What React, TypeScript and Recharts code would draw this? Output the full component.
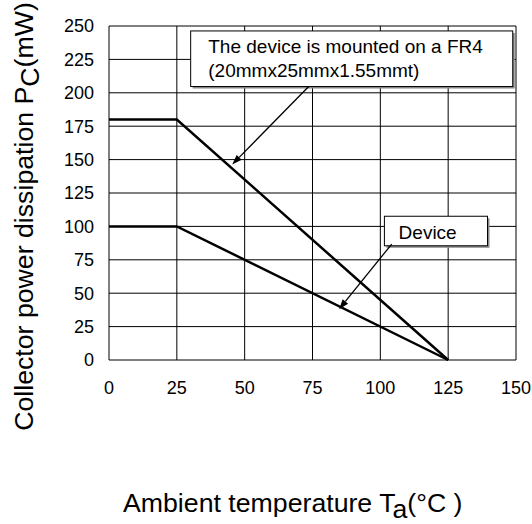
import React from "react";
import {
  LineChart,
  Line,
  XAxis,
  YAxis,
  CartesianGrid,
  ReferenceArea,
  ReferenceLine,
} from "recharts";

const temps = [0, 25, 125];
const fr4Power = [180, 180, 0];
const devicePower = [100, 100, 0];
const xTicks = [0, 25, 50, 75, 100, 125, 150];
const yTicks = [0, 25, 50, 75, 100, 125, 150, 175, 200, 225, 250];

const fr4Note = ["The device is mounted on a FR4", "(20mmx25mmx1.55mmt)"];
const deviceNote = "Device";

const data = temps.map((t, i) => ({ t, fr4: fr4Power[i], device: devicePower[i] }));

const FONT = "'Liberation Sans', Arial, Helvetica, sans-serif";

const Arrow = (props: any) => {
  const { x1, y1, x2, y2 } = props;
  const ang = Math.atan2(y2 - y1, x2 - x1);
  const len = 10;
  const w = 3.5;
  const bx = x2 - len * Math.cos(ang);
  const by = y2 - len * Math.sin(ang);
  const px = -Math.sin(ang) * w;
  const py = Math.cos(ang) * w;
  return (
    <g>
      <line x1={x1} y1={y1} x2={bx} y2={by} stroke="#000" strokeWidth={1.3} />
      <polygon
        points={`${x2},${y2} ${bx + px},${by + py} ${bx - px},${by - py}`}
        fill="#000"
      />
    </g>
  );
};

const BoxShape = (props: any) => {
  const { x, y, width, height } = props;
  return (
    <g>
      <rect x={x + 2} y={y + 2} width={width} height={height} fill="#8a8a8a" />
      <rect x={x} y={y} width={width} height={height} fill="#fff" stroke="#000" strokeWidth={1} />
    </g>
  );
};

export default function App() {
  return (
    <div style={{ position: "absolute", left: 0, top: 0, fontFamily: FONT }}>
      <LineChart
        width={532}
        height={524}
        data={data}
        margin={{ top: 26, right: 16, bottom: 134, left: 49 }}
        style={{ fontFamily: FONT }}
      >
        <CartesianGrid stroke="#000" strokeWidth={1} />
        <XAxis
          dataKey="t"
          type="number"
          domain={[0, 150]}
          ticks={xTicks}
          interval={0}
          height={30}
          tickLine={false}
          axisLine={false}
          tickSize={0}
          tickMargin={21}
          tick={{ fill: "#000", fontSize: 18, fontFamily: FONT }}
          label={{
            content: (p: any) => {
              const vb = p.viewBox;
              return (
                <text
                  x={vb.x + 14}
                  y={vb.y + 152}
                  fontSize={26.7}
                  fill="#000"
                  fontFamily={FONT}
                  textAnchor="start"
                >
                  <tspan>Ambient temperature T</tspan>
                  <tspan dy={6}>a</tspan>
                  <tspan dy={-6}>(°C )</tspan>
                </text>
              );
            },
          }}
        />
        <YAxis
          type="number"
          domain={[0, 250]}
          ticks={yTicks}
          interval={0}
          width={60}
          tickLine={false}
          axisLine={false}
          tickSize={0}
          tickMargin={15}
          tick={{ fill: "#000", fontSize: 18, fontFamily: FONT }}
          label={{
            content: (p: any) => {
              const vb = p.viewBox;
              const cx = vb.x - 16;
              const cy = vb.y + 190.5;
              return (
                <text
                  x={cx}
                  y={cy}
                  fontSize={26.7}
                  fill="#000"
                  fontFamily={FONT}
                  textAnchor="middle"
                  transform={`rotate(-90, ${cx}, ${cy})`}
                >
                  <tspan>Collector power dissipation P</tspan>
                  <tspan dy={6}>C</tspan>
                  <tspan dy={-6}>(mW)</tspan>
                </text>
              );
            },
          }}
        />
        <Line
          type="linear"
          dataKey="fr4"
          stroke="#000"
          strokeWidth={2.5}
          dot={false}
          isAnimationActive={false}
        />
        <Line
          type="linear"
          dataKey="device"
          stroke="#000"
          strokeWidth={2.5}
          dot={false}
          isAnimationActive={false}
        />
        <ReferenceLine
          segment={[
            { x: 73.6, y: 204.7 },
            { x: 45.4, y: 146.3 },
          ]}
          shape={Arrow}
          ifOverflow="visible"
        />
        <ReferenceLine
          segment={[
            { x: 104.2, y: 86.8 },
            { x: 84.8, y: 38 },
          ]}
          shape={Arrow}
          ifOverflow="visible"
        />
        <ReferenceArea
          x1={30.1}
          x2={148.8}
          y1={204.7}
          y2={246.3}
          ifOverflow="visible"
          shape={BoxShape}
          label={{
            content: (p: any) => {
              const vb = p.viewBox;
              return (
                <text x={vb.x + 17.6} y={vb.y + 22} fontSize={19} fill="#000" fontFamily={FONT}>
                  <tspan x={vb.x + 17.6}>{fr4Note[0]}</tspan>
                  <tspan x={vb.x + 17.6} dy={24}>
                    {fr4Note[1]}
                  </tspan>
                </text>
              );
            },
          }}
        />
        <ReferenceArea
          x1={101.5}
          x2={139.5}
          y1={85.5}
          y2={107.6}
          ifOverflow="visible"
          shape={BoxShape}
          label={{
            content: (p: any) => {
              const vb = p.viewBox;
              return (
                <text x={vb.x + 14.2} y={vb.y + 22.5} fontSize={19} fill="#000" fontFamily={FONT}>
                  {deviceNote}
                </text>
              );
            },
          }}
        />
      </LineChart>
    </div>
  );
}
